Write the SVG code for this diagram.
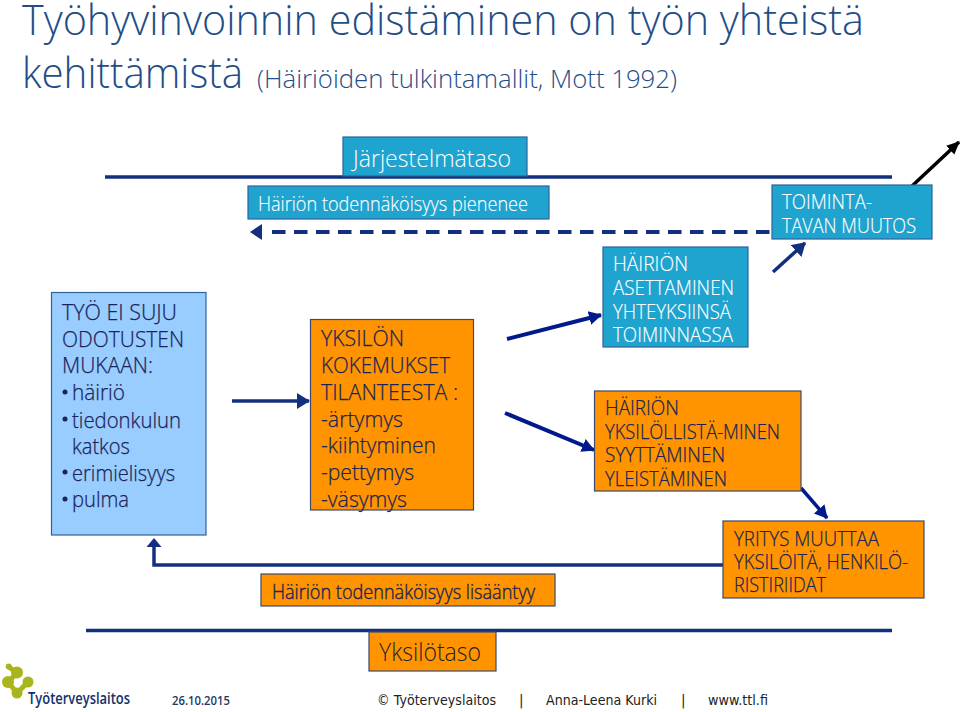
<svg xmlns="http://www.w3.org/2000/svg" width="960" height="712" viewBox="0 0 960 712">
<defs>
<marker id="a" markerUnits="userSpaceOnUse" markerWidth="14" markerHeight="16" refX="12" refY="8" orient="auto"><path d="M0 1L13 8L0 15Z" fill="#001a8c"/></marker>
<marker id="n" markerUnits="userSpaceOnUse" markerWidth="14" markerHeight="16" refX="12" refY="8" orient="auto"><path d="M0 0L13 8L0 16Z" fill="#12307e"/></marker>
<marker id="k" markerUnits="userSpaceOnUse" markerWidth="14" markerHeight="14" refX="12" refY="7" orient="auto"><path d="M0 1L13 7L0 13Z" fill="#000"/></marker>
</defs>
<style>
text{font-family:"Open Sans","Liberation Sans",sans-serif;font-weight:300}
.d{fill:#1b2458;stroke:#1b2458;stroke-width:.25;font-size:22px}
.d2{fill:#1b2458;stroke:#1b2458;stroke-width:.25;font-size:20.5px}
.w{fill:#fff;stroke:#fff;stroke-width:.15;font-size:20.5px}
.l{fill:#1f4e87}
.c{fill:none;stroke:#12307e;stroke-width:3.5}
.p{fill:none;stroke:#001a8c;stroke-width:4}
.o{fill:#ff9400;stroke:#3c4a6e;stroke-width:1.2}
.t{fill:#1fa3cf;stroke:#2f6399;stroke-width:1.2}
.f{fill:#222;font-family:"DejaVu Sans",sans-serif;font-weight:400;font-size:13.5px}
.b{fill:#1b2458}
.lg{fill:#a9b51c}
</style>
<text class="l" x="22" y="35" font-size="42" textLength="842" lengthAdjust="spacingAndGlyphs">Työhyvinvoinnin edistäminen on työn yhteistä</text>
<text class="l" x="22" y="88" font-size="42" textLength="221" lengthAdjust="spacingAndGlyphs">kehittämistä</text>
<text class="l" x="257" y="88" font-size="25" textLength="420" lengthAdjust="spacingAndGlyphs">(Häiriöiden tulkintamallit, Mott 1992)</text>

<g id="connectors">
<path class="c" d="M105 177H892"/>
<path class="c" d="M86 630.5H892"/>
<path d="M272 232H772" fill="none" stroke="#12307e" stroke-width="4" stroke-dasharray="13.5 8.5"/>
<path d="M262 224L250 232L262 240Z" fill="#12307e"/>
<path class="c" d="M773 272L805 243" marker-end="url(#n)"/>
<path d="M912 186L959 142" fill="none" stroke="#000" stroke-width="3.5" marker-end="url(#k)"/>
<path class="c" d="M232 401H309" marker-end="url(#n)"/>
<path class="p" d="M507 339L601 315" marker-end="url(#a)"/>
<path class="p" d="M505 413L594 450" marker-end="url(#a)"/>
<path class="p" d="M801 488L827 518" marker-end="url(#a)" style="stroke-width:3.5"/>
<path class="c" d="M154 546V565H723"/>
<path d="M146.500 547L154 538L161.500 547Z" fill="#12307e"/>
</g>

<g id="jarjestelmataso"><rect class="t" x="343" y="137" width="184" height="39"/><text x="353" y="167" font-size="24" fill="#fff" textLength="158" lengthAdjust="spacingAndGlyphs">Järjestelmätaso</text></g>
<g id="pienenee"><rect class="t" x="248" y="186" width="301" height="33"/><text class="w" x="258" y="211" textLength="270" lengthAdjust="spacingAndGlyphs">Häiriön todennäköisyys pienenee</text></g>
<g id="toiminta"><rect class="t" x="772" y="185" width="160" height="54"/><text class="w" x="782" y="209" textLength="90" lengthAdjust="spacingAndGlyphs">TOIMINTA-</text><text class="w" x="782" y="233" textLength="134" lengthAdjust="spacingAndGlyphs">TAVAN MUUTOS</text></g>
<g id="tyo">
<rect x="51.500" y="292.500" width="154.500" height="242.500" fill="#99ccff" stroke="#2f6399" stroke-width="1.2"/>
<text class="d" x="62" y="320" textLength="115" lengthAdjust="spacingAndGlyphs">TYÖ EI SUJU</text>
<text class="d" x="62" y="346.500" textLength="122" lengthAdjust="spacingAndGlyphs">ODOTUSTEN</text>
<text class="d" x="62" y="373" textLength="91" lengthAdjust="spacingAndGlyphs">MUKAAN:</text>
<circle class="b" cx="65" cy="392" r="2.500"/><text class="d" x="72" y="400" textLength="53" lengthAdjust="spacingAndGlyphs">häiriö</text>
<circle class="b" cx="65" cy="419" r="2.500"/><text class="d" x="72" y="427.500" textLength="109" lengthAdjust="spacingAndGlyphs">tiedonkulun</text>
<text class="d" x="72" y="454" textLength="58" lengthAdjust="spacingAndGlyphs">katkos</text>
<circle class="b" cx="65" cy="472" r="2.500"/><text class="d" x="72" y="480.500" textLength="103" lengthAdjust="spacingAndGlyphs">erimielisyys</text>
<circle class="b" cx="65" cy="499" r="2.500"/><text class="d" x="72" y="507" textLength="57" lengthAdjust="spacingAndGlyphs">pulma</text>
</g>
<g id="yksilon">
<rect class="o" x="310.500" y="319.500" width="163" height="190.500"/>
<text class="d" x="321" y="346" textLength="83" lengthAdjust="spacingAndGlyphs">YKSILÖN</text>
<text class="d" x="321" y="373" textLength="129" lengthAdjust="spacingAndGlyphs">KOKEMUKSET</text>
<text class="d" x="321" y="400" textLength="137" lengthAdjust="spacingAndGlyphs">TILANTEESTA :</text>
<text class="d" x="321" y="427" textLength="82" lengthAdjust="spacingAndGlyphs">-ärtymys</text>
<text class="d" x="321" y="453" textLength="115" lengthAdjust="spacingAndGlyphs">-kiihtyminen</text>
<text class="d" x="321" y="480" textLength="93" lengthAdjust="spacingAndGlyphs">-pettymys</text>
<text class="d" x="321" y="507" textLength="86" lengthAdjust="spacingAndGlyphs">-väsymys</text>
</g>
<g id="asettaminen">
<rect class="t" x="603" y="247" width="145" height="100"/>
<text class="w" x="613" y="271" textLength="75" lengthAdjust="spacingAndGlyphs">HÄIRIÖN</text>
<text class="w" x="613" y="295" textLength="121" lengthAdjust="spacingAndGlyphs">ASETTAMINEN</text>
<text class="w" x="613" y="319" textLength="118" lengthAdjust="spacingAndGlyphs">YHTEYKSIINSÄ</text>
<text class="w" x="613" y="342" textLength="120" lengthAdjust="spacingAndGlyphs">TOIMINNASSA</text>
</g>
<g id="yksilollista">
<rect class="o" x="594.500" y="391" width="206.500" height="100"/>
<text class="d2" x="605" y="415" textLength="74" lengthAdjust="spacingAndGlyphs">HÄIRIÖN</text>
<text class="d2" x="605" y="438.500" textLength="175" lengthAdjust="spacingAndGlyphs">YKSILÖLLISTÄ-MINEN</text>
<text class="d2" x="605" y="462" textLength="120" lengthAdjust="spacingAndGlyphs">SYYTTÄMINEN</text>
<text class="d2" x="605" y="485.500" textLength="122" lengthAdjust="spacingAndGlyphs">YLEISTÄMINEN</text>
</g>
<g id="yritys">
<rect class="o" x="723" y="521" width="201" height="77"/>
<text class="d2" x="734" y="546" textLength="145" lengthAdjust="spacingAndGlyphs">YRITYS MUUTTAA</text>
<text class="d2" x="734" y="569" textLength="174" lengthAdjust="spacingAndGlyphs">YKSILÖITÄ, HENKILÖ-</text>
<text class="d2" x="734" y="592" textLength="92" lengthAdjust="spacingAndGlyphs">RISTIRIIDAT</text>
</g>
<g id="lisaantyy"><rect class="o" x="261" y="574" width="294" height="32"/><text class="d2" x="272" y="599" textLength="263" lengthAdjust="spacingAndGlyphs" style="stroke-width:.4">Häiriön todennäköisyys lisääntyy</text></g>
<g id="yksilotaso"><rect class="o" x="369" y="632" width="127" height="39"/><text x="379" y="661" font-size="25" fill="#23232c" textLength="102" lengthAdjust="spacingAndGlyphs">Yksilötaso</text></g>

<g id="logo">
<path d="M9 667L17 673L8 682L17 693L28 682" fill="none" stroke="#a9b51c" stroke-width="5" stroke-linejoin="round"/>
<circle class="lg" cx="8.700" cy="666.500" r="3"/><circle class="lg" cx="17" cy="672.500" r="6"/><circle class="lg" cx="8" cy="682" r="6"/><circle class="lg" cx="17" cy="693" r="5.500"/><circle class="lg" cx="28" cy="682" r="5.500"/>
<text x="28" y="703.500" font-size="17" fill="#12306e" style="font-weight:600" textLength="102" lengthAdjust="spacingAndGlyphs">Työterveyslaitos</text>
</g>
<g id="footer">
<text x="172" y="705" font-size="13" fill="#1f3864" style="font-weight:600" textLength="58" lengthAdjust="spacingAndGlyphs">26.10.2015</text>
<text class="f" x="377" y="705" textLength="119" lengthAdjust="spacingAndGlyphs">© Työterveyslaitos</text>
<text class="f" x="519" y="705">|</text>
<text class="f" x="546" y="705" textLength="111" lengthAdjust="spacingAndGlyphs">Anna-Leena Kurki</text>
<text class="f" x="681" y="705">|</text>
<text class="f" x="708" y="705" textLength="60" lengthAdjust="spacingAndGlyphs">www.ttl.fi</text>
</g>
</svg>
